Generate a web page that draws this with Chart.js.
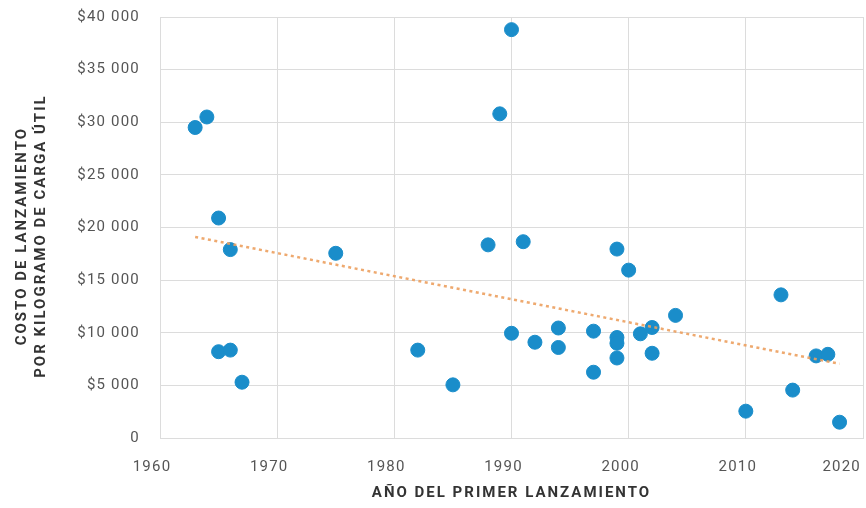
<!DOCTYPE html>
<html>
<head>
<meta charset="utf-8">
<script src="https://cdn.jsdelivr.net/npm/chart.js@4"></script>
<style>
  html, body { margin: 0; padding: 0; background: #fff; }
  #wrap { width: 866px; height: 508px; }
</style>
</head>
<body>
<div id="wrap"><canvas id="myChart" width="866" height="508"></canvas></div>
<script>
// año del primer lanzamiento / costo por kg (USD)
const years = [1963, 1964, 1965, 1966, 1965, 1966, 1967, 1975, 1982, 1985,
  1988, 1989, 1990, 1990, 1991, 1992, 1994, 1994, 1997, 1997,
  1999, 1999, 1999, 1999, 2000, 2001, 2002, 2002, 2004, 2010,
  2013, 2014, 2016, 2017, 2018];
const costs = [29500, 30500, 20900, 17900, 8200, 8350, 5300, 17550, 8350, 5050,
  18350, 30800, 38800, 9950, 18650, 9100, 10450, 8600, 10150, 6250,
  17950, 9550, 9000, 7600, 15950, 9900, 10500, 8050, 11650, 2550,
  13600, 4550, 7800, 7950, 1500];

// linea de tendencia
const trendYears = [1963, 2018];
const trendCosts = [19100, 7050];

const xTicks = [1960, 1970, 1980, 1990, 2000, 2010, 2020];

function fmtCost(v){
  if(v === 0) return '0';
  const s = String(v);
  return '$' + s.slice(0, s.length - 3) + ' ' + s.slice(-3);
}

// titles get a bit more letter spacing than the tick labels
function spaceTitle(axis){
  if(axis._spaced) return;
  const orig = axis.drawTitle;
  axis.drawTitle = function(){
    this.ctx.letterSpacing = '2px';
    orig.call(this);
    this.ctx.letterSpacing = '1.2px';
  };
  axis._spaced = true;
}

const spacing = {
  id: 'spacing',
  beforeDraw(chart){ chart.ctx.letterSpacing = '1.2px'; }
};

const points = years.map((y, i) => ({x: y, y: costs[i]}));
const trend = trendYears.map((y, i) => ({x: y, y: trendCosts[i]}));

const ctx = document.getElementById('myChart');

new Chart(ctx, {
  type: 'scatter',
  data: {
    datasets: [{
      type: 'line',
      data: trend,
      borderColor: 'rgba(236,160,95,0.9)',
      borderWidth: 2.5,
      borderDash: [3, 3.5],
      pointRadius: 0,
      fill: false,
      order: 0
    }, {
      data: points,
      backgroundColor: '#1a8dca',
      borderColor: '#1a8dca',
      pointRadius: 7,
      pointHoverRadius: 7,
      order: 1
    }]
  },
  options: {
    responsive: false,
    animation: false,
    layout: { autoPadding: false, padding: { left: 8, top: 17, right: 3, bottom: 2 } },
    plugins: {
      legend: { display: false },
      tooltip: { enabled: false }
    },
    scales: {
      x: {
        type: 'linear',
        min: 1960,
        max: 2020,
        afterBuildTicks: (axis) => { axis.ticks = xTicks.map(v => ({value: v})); },
        afterFit: (axis) => {
          axis.height = 68; axis.paddingLeft = 0; axis.paddingRight = 0;
          spaceTitle(axis);
        },
        grid: { color: '#dcdcdc', drawTicks: false },
        border: { color: '#dcdcdc' },
        ticks: {
          padding: 20,
          labelOffset: -8,
          color: '#555',
          font: { family: 'Roboto', size: 15 },
          // last label sits inside the frame
          callback: (v) => v === 2020 ? '2020\u2002\u2002\u2002' : String(v)
        },
        title: {
          display: true,
          text: 'AÑO DEL PRIMER LANZAMIENTO',
          color: '#333',
          font: { family: 'Roboto', size: 15, weight: 'bold' }
        }
      },
      y: {
        min: 0,
        max: 40000,
        afterFit: (axis) => {
          axis.width = 152; axis.paddingTop = 0; axis.paddingBottom = 0;
          spaceTitle(axis);
        },
        grid: { color: '#dcdcdc', drawTicks: false },
        border: { color: '#dcdcdc' },
        ticks: {
          stepSize: 5000,
          padding: 20,
          color: '#555',
          font: { family: 'Roboto', size: 15 },
          callback: (v) => fmtCost(v)
        },
        title: {
          display: true,
          text: ['COSTO DE LANZAMIENTO   ', 'POR KILOGRAMO DE CARGA ÚTIL   '],
          color: '#333',
          font: { family: 'Roboto', size: 15, weight: 'bold', lineHeight: 1.3 }
        }
      }
    }
  },
  plugins: [spacing]
});
</script>
</body>
</html>
